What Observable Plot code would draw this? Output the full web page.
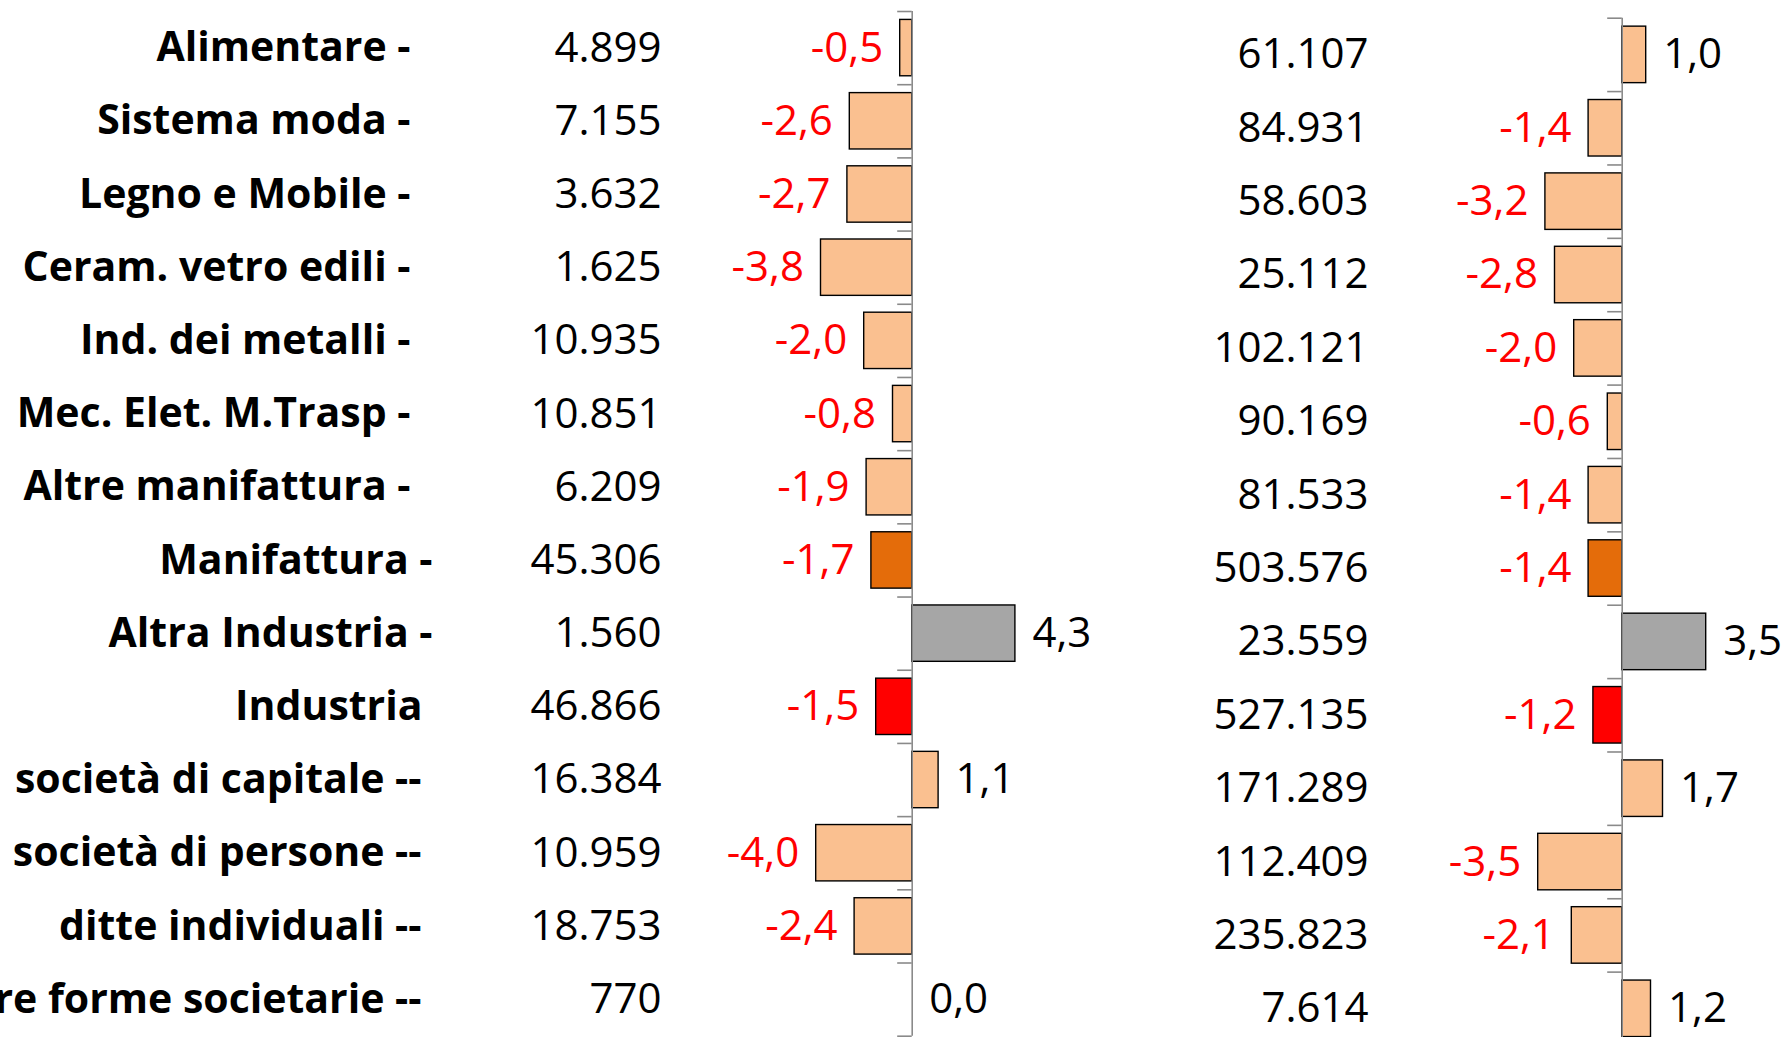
<!DOCTYPE html>
<html><head><meta charset="utf-8">
<script src="https://cdn.jsdelivr.net/npm/d3@7"></script>
<script src="https://cdn.jsdelivr.net/npm/@observablehq/plot@0.6"></script>
<style>
html,body{margin:0;padding:0;background:#fff;overflow:hidden;}
#wrap{position:relative;width:1783px;height:1037px;overflow:hidden;background:#fff;}
#left,#right{position:absolute;top:0;}
#left{left:0;}
#right{left:1100px;}
</style></head>
<body><div id="wrap"><div id="left"></div><div id="right"></div></div>
<script>
// ---- data ----
const categories = [
  "Alimentare -", "Sistema moda -", "Legno e Mobile -", "Ceram. vetro edili -",
  "Ind. dei metalli -", "Mec. Elet. M.Trasp -", "Altre manifattura -", "Manifattura -",
  "Altra Industria -", "Industria", "società di capitale --", "società di persone --",
  "ditte individuali --", "Altre forme societarie --"
];
const groups = ["settore","settore","settore","settore","settore","settore","settore",
  "manifattura","altra","industria","forma","forma","forma","forma"];
const impreseSinistra = [4899, 7155, 3632, 1625, 10935, 10851, 6209, 45306, 1560, 46866, 16384, 10959, 18753, 770];
const variazSinistra  = [-0.5, -2.6, -2.7, -3.8, -2.0, -0.8, -1.9, -1.7, 4.3, -1.5, 1.1, -4.0, -2.4, 0.0];
const impreseDestra   = [61107, 84931, 58603, 25112, 102121, 90169, 81533, 503576, 23559, 527135, 171289, 112409, 235823, 7614];
const variazDestra    = [1.0, -1.4, -3.2, -2.8, -2.0, -0.6, -1.4, -1.4, 3.5, -1.2, 1.7, -3.5, -2.1, 1.2];
const groupColors = {settore: "#FAC090", forma: "#FAC090", manifattura: "#E46C0A", altra: "#A6A6A6", industria: "#FF0000"};

// ---- styling (label right edge per group, px) ----
const labelEdge = {settore: 410, manifattura: 432, altra: 432, industria: 422, forma: 421};

// ---- formatting ----
const it = d3.formatLocale({decimal: ",", thousands: ".", grouping: [3], currency: ["", " €"], minus: "-"});
const fmtInt = it.format(",d");
const fmtPct = it.format(".1f");

const PX = 24;      // pixels per percentage point
const TICK = 14.5;  // tick length in px
const FONT = "'Open Sans', sans-serif";

function panel({imprese, variaz, width, height, top, bottom, axisX, numX, withLabels}) {
  const rows = categories.map((c, i) => ({cat: c, group: groups[i], n: imprese[i], v: variaz[i]}));
  const step = (bottom - top) / categories.length;
  const marks = [
    Plot.ruleY(categories, {y: d => d, x1: -TICK / PX, x2: 0, dy: -step / 2, stroke: "#8a8a8a", strokeWidth: 1.6}),
    Plot.ruleY([categories[categories.length - 1]], {y: d => d, x1: -TICK / PX, x2: 0, dy: step / 2, stroke: "#8a8a8a", strokeWidth: 1.6}),
    Plot.barX(rows.filter(d => d.v !== 0), {y: "cat", x: "v", fill: d => groupColors[d.group], stroke: "#000", strokeWidth: 1.4}),
    Plot.ruleX([0], {stroke: "#8a8a8a", strokeWidth: 1.6}),
    Plot.text(rows, {y: "cat", text: d => fmtInt(d.n), frameAnchor: "left", dx: numX, textAnchor: "end", fill: "#000", fontSize: 42}),
    Plot.text(rows.filter(d => d.v < 0), {y: "cat", x: "v", text: d => fmtPct(d.v), textAnchor: "end", dx: -17, fill: "#FF0000", fontSize: 42}),
    Plot.text(rows.filter(d => d.v >= 0), {y: "cat", x: "v", text: d => fmtPct(d.v), textAnchor: "start", dx: 17, fill: "#000", fontSize: 42})
  ];
  if (withLabels) {
    for (const g of Object.keys(labelEdge)) {
      marks.push(Plot.text(rows.filter(d => d.group === g), {y: "cat", text: "cat", frameAnchor: "left", dx: labelEdge[g], textAnchor: "end", fill: "#000", fontWeight: "bold", fontSize: 41}));
    }
  }
  return Plot.plot({
    width, height,
    marginTop: top, marginBottom: height - bottom, marginLeft: 0, marginRight: 0,
    x: {domain: [0, 1], range: [axisX, axisX + PX], axis: null},
    y: {domain: categories, paddingInner: 0.23, paddingOuter: 0.115, round: false, axis: null},
    color: {type: "identity"},
    style: {fontFamily: FONT, fontSize: "41px", background: "transparent", overflow: "visible"},
    marks
  });
}

document.getElementById("left").append(panel({
  imprese: impreseSinistra, variaz: variazSinistra,
  width: 1100, height: 1037, top: 11, bottom: 1035.7,
  axisX: 911.7, numX: 661, withLabels: true
}));
document.getElementById("right").append(panel({
  imprese: impreseDestra, variaz: variazDestra,
  width: 683, height: 1046, top: 17.7, bottom: 1045,
  axisX: 521.7, numX: 268, withLabels: false
}));
</script>
</body></html>
